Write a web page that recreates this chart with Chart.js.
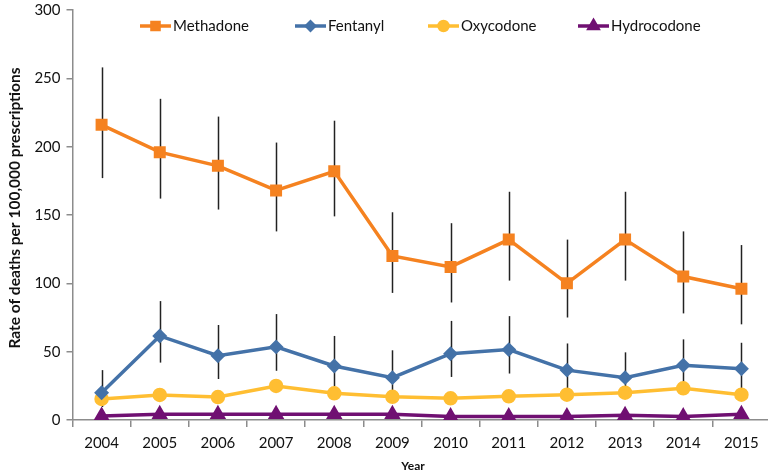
<!DOCTYPE html>
<html>
<head>
<meta charset="utf-8">
<script src="https://cdn.jsdelivr.net/npm/chart.js@4"></script>
<style>
html,body{margin:0;padding:0;background:#fff;overflow:hidden;}
#wrap{width:768px;height:475px;position:relative;overflow:hidden;}
#c{position:absolute;left:0;top:-5px;}
</style>
</head>
<body>
<div id="wrap"><canvas id="c" width="780" height="480"></canvas></div>
<script>
const years = ['2004','2005','2006','2007','2008','2009','2010','2011','2012','2013','2014','2015'];
const yTicks = [0,50,100,150,200,250,300];

const methadone   = [216,196,186,168,182,120,112,132,100,132,105,96];
const methadoneHi = [258,235,222,203,219,152,144,167,132,167,138,128];
const methadoneLo = [177,162,154,138,149,93,86,102,75,102,78,70];

const fentanyl    = [20,61.5,47,53.5,39.5,31,48.5,51.5,36.5,31,40,37.5];
const fentanylHi  = [36.5,87,69.5,77.5,61.5,51,72.5,76,56,49.5,59,56.5];
const fentanylLo  = [9.5,42,30,36,24.5,14,31.5,34,17,17,24.5,23];

const oxycodone   = [15.4,18.3,16.8,24.9,19.5,17,15.9,17.3,18.5,20,23.2,18.5];
const oxycodoneHi = [18.5,21.5,19.5,28.5,22.5,20,18.5,20,21.5,23,26.5,21.5];
const oxycodoneLo = [12.5,15,14,21,16.5,14,13.5,14.5,15.5,17,20,15.5];

const hydrocodone = [3,4.2,4.2,4.2,4.2,4.2,2.5,2.5,2.5,3.4,2.5,4.2];

const FONT = 'Lato, "Open Sans", sans-serif';
const COL = {m:'#F58220', f:'#4472A8', o:'#FFBE32', h:'#701072'};
const DY = 5; // canvas is shifted up by 5px

const errorBars = {
  id:'errorBars',
  beforeDatasetsDraw(chart){
    const {ctx, scales:{x,y}} = chart;
    ctx.save();
    ctx.strokeStyle = '#222';
    ctx.lineWidth = 1.5;
    chart.data.datasets.forEach(ds=>{
      if(!ds.hi) return;
      ds.hi.forEach((hv,i)=>{
        const px = Math.round(x.getPixelForValue(i))+0.5;
        ctx.beginPath();
        ctx.moveTo(px, y.getPixelForValue(hv));
        ctx.lineTo(px, y.getPixelForValue(ds.lo[i]));
        ctx.stroke();
      });
    });
    ctx.restore();
  }
};

const legendPos = [140, 295, 428, 578];
const customLegend = {
  id:'customLegend',
  afterDraw(chart){
    const {ctx} = chart;
    ctx.save();
    const yy = 26 + DY;
    chart.data.datasets.forEach((ds,i)=>{
      const x0 = legendPos[i];
      ctx.strokeStyle = ds.borderColor;
      ctx.lineWidth = 3.5;
      ctx.beginPath(); ctx.moveTo(x0,yy); ctx.lineTo(x0+31,yy); ctx.stroke();
      ctx.fillStyle = ds.backgroundColor;
      ctx.strokeStyle = ds.borderColor;
      Chart.helpers.drawPoint(ctx,{pointStyle:ds.pointStyle, radius:ds.pointRadius-1, rotation:0, borderWidth:1}, x0+15.5, yy);
      ctx.fillStyle = '#111';
      ctx.font = '15px ' + FONT;
      ctx.textBaseline = 'middle';
      ctx.textAlign = 'left';
      ctx.fillText(ds.label, x0+33, yy);
    });
    // y-axis title
    ctx.save();
    ctx.translate(15, 208 + DY);
    ctx.rotate(-Math.PI/2);
    ctx.font = 'bold 15.5px ' + FONT;
    ctx.textAlign = 'center';
    ctx.textBaseline = 'middle';
    ctx.fillStyle = '#111';
    ctx.fillText('Rate of deaths per 100,000 prescriptions', 0, 0);
    ctx.restore();
    ctx.font = 'bold 12px ' + FONT;
    ctx.textAlign = 'center';
    ctx.textBaseline = 'middle';
    ctx.fillStyle = '#111';
    ctx.fillText('Year', 413, 466 + DY);
    ctx.restore();
  }
};

function ds(label, data, color, style, radius, hi, lo){
  return {label, data, borderColor:color, backgroundColor:color, pointBackgroundColor:color,
    pointBorderColor:color, pointStyle:style, pointRadius:radius, pointHoverRadius:radius,
    borderWidth:3.5, tension:0, hi, lo};
}

new Chart(document.getElementById('c'), {
  type:'line',
  data:{
    labels:years,
    datasets:[
      ds('Methadone', methadone, COL.m, 'rect', 6, methadoneHi, methadoneLo),
      ds('Fentanyl', fentanyl, COL.f, 'rectRot', 5, fentanylHi, fentanylLo),
      ds('Oxycodone', oxycodone, COL.o, 'circle', 5.5, oxycodoneHi, oxycodoneLo),
      ds('Hydrocodone', hydrocodone, COL.h, 'triangle', 6, null, null)
    ]
  },
  options:{
    responsive:false,
    animation:false,
    layout:{padding:{top:5,right:-16,left:0,bottom:0}},
    plugins:{legend:{display:false}, tooltip:{enabled:false}},
    scales:{
      x:{
        offset:true,
        grid:{offset:true, drawOnChartArea:false, color:'#8c8c8c', tickLength:7, lineWidth:1.5},
        border:{color:'#8c8c8c', width:1.5},
        ticks:{color:'#111', font:{family:FONT, size:15}, padding:7, maxRotation:0},
        afterFit(s){ s.height = 55; }
      },
      y:{
        min:0, max:300,
        afterBuildTicks(s){ s.ticks = yTicks.map(v=>({value:v})); },
        grid:{drawOnChartArea:false, color:'#8c8c8c', tickLength:6, lineWidth:1.5},
        border:{color:'#8c8c8c', width:1.5},
        ticks:{color:'#111', font:{family:FONT, size:15}, padding:6},
        afterFit(s){ s.width = 72.5; }
      }
    }
  },
  plugins:[errorBars, customLegend]
});
</script>
</body>
</html>
